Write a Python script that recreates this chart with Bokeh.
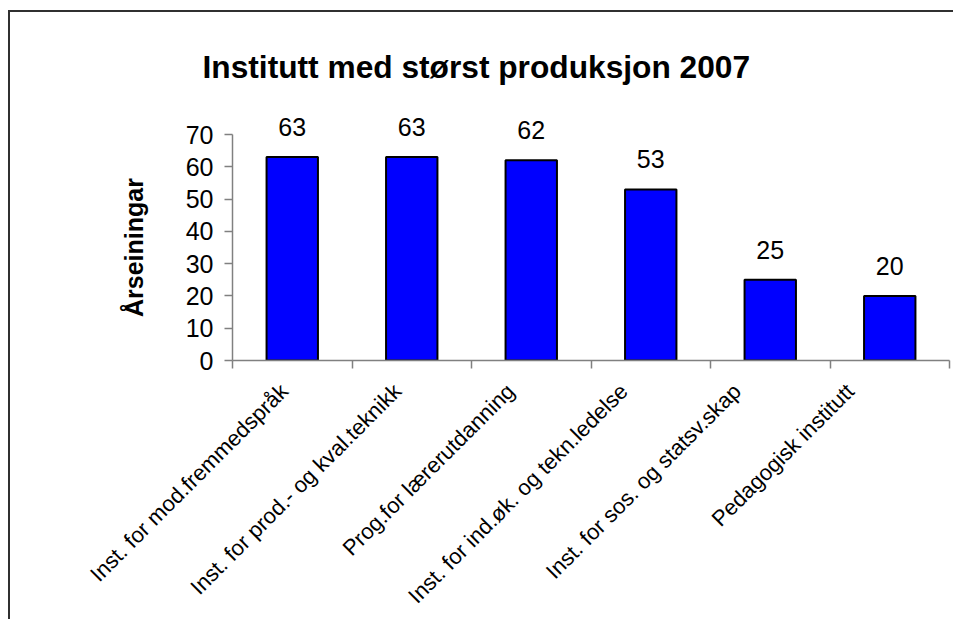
import math
from bokeh.plotting import figure
from bokeh.models import Range1d, FixedTicker, ColumnDataSource
from bokeh.embed import file_html
from bokeh.resources import INLINE
from bokeh.core.properties import value

# ---- data ----
categories = [
    "Inst. for mod.fremmedspråk",
    "Inst. for prod.- og kval.teknikk",
    "Prog.for lærerutdanning",
    "Inst. for ind.øk. og tekn.ledelse",
    "Inst. for sos. og statsv.skap",
    "Pedagogisk institutt",
]
values = [63, 63, 62, 53, 25, 20]
y_ticks = [0, 10, 20, 30, 40, 50, 60, 70]
title_text = "Institutt med størst produksjon 2007"
y_label = "Årseiningar"
value_labels = [str(v) for v in values]

FONT = "Liberation Sans"
AXIS_COLOR = "#808080"

# category slots 1..n on a numeric axis, boundaries between them
slot = list(range(1, len(categories) + 1))
boundaries = [s - 0.5 for s in slot] + [slot[-1] + 0.5]
# rotated labels drift leftwards slightly as in the original layout (style only)
SLOT_PX = 119.5
label_pos = [s - (8 + 6.3 * i) / SLOT_PX for i, s in enumerate(slot)]

src = ColumnDataSource(dict(x=slot, top=values, label=value_labels, name=categories))

p = figure(
    width=945, height=609,
    x_range=Range1d(0.5, len(categories) + 0.5),
    y_range=Range1d(0, 70),
    output_backend="svg", toolbar_location=None,
    min_border_left=222, min_border_right=6,
    min_border_top=122, min_border_bottom=261,
)
p.styles = {
    "margin-left": "8px", "margin-top": "10px",
    "border-left": "2px solid #303030", "border-top": "2px solid #303030",
}
p.outline_line_color = None
p.background_fill_color = "white"
p.border_fill_color = "white"
p.xgrid.grid_line_color = None
p.ygrid.grid_line_color = None

# y axis
ya = p.yaxis[0]
ya.ticker = FixedTicker(ticks=y_ticks)
ya.axis_line_color = AXIS_COLOR
ya.axis_line_width = 1.5
ya.major_tick_line_color = AXIS_COLOR
ya.major_tick_line_width = 1.5
ya.major_tick_out = 8
ya.major_tick_in = 0
ya.minor_tick_line_color = None
ya.major_label_text_font = FONT
ya.major_label_text_font_size = "25px"
ya.major_label_text_color = "black"
ya.major_label_standoff = 11
ya.axis_label = y_label
ya.axis_label_text_font = FONT
ya.axis_label_text_font_size = "25px"
ya.axis_label_text_font_style = "bold"
ya.axis_label_text_color = "black"
ya.axis_label_standoff = 35

# x axis: labels under the bars, tick marks between categories
xa = p.xaxis[0]
xa.ticker = FixedTicker(ticks=label_pos, minor_ticks=boundaries)
xa.major_label_overrides = {pos: c for pos, c in zip(label_pos, categories)}
xa.axis_line_color = AXIS_COLOR
xa.axis_line_width = 1.5
xa.major_tick_line_color = None
xa.minor_tick_line_color = AXIS_COLOR
xa.minor_tick_line_width = 1.5
xa.minor_tick_out = 8
xa.minor_tick_in = 0
xa.major_label_orientation = math.pi / 4
xa.major_label_text_font = FONT
xa.major_label_text_font_size = "22px"
xa.major_label_text_color = "black"
xa.major_label_standoff = 19

# bars
p.vbar(x="x", top="top", width=0.43, source=src,
       fill_color="#0000FF", line_color="black", line_width=2)

# value labels (drawn above the plot area, so not clipped to it)
labels_r = p.text(x="x", y="top", text="label", source=src,
                  text_align="center", text_baseline="alphabetic", y_offset=-30,
                  text_font=value(FONT), text_font_size="25px", text_color="black")
labels_r.level = "annotation"

# chart title, anchored at the top-left corner of the plot area
title_r = p.text(x=[p.x_range.start], y=[p.y_range.end], text=[title_text],
                 x_offset=-30, y_offset=-68,
                 text_align="left", text_baseline="alphabetic",
                 text_font=value(FONT), text_font_size="31.7px",
                 text_font_style="bold", text_color="black")
title_r.level = "annotation"

open("out.html", "w").write(file_html(p, INLINE))
